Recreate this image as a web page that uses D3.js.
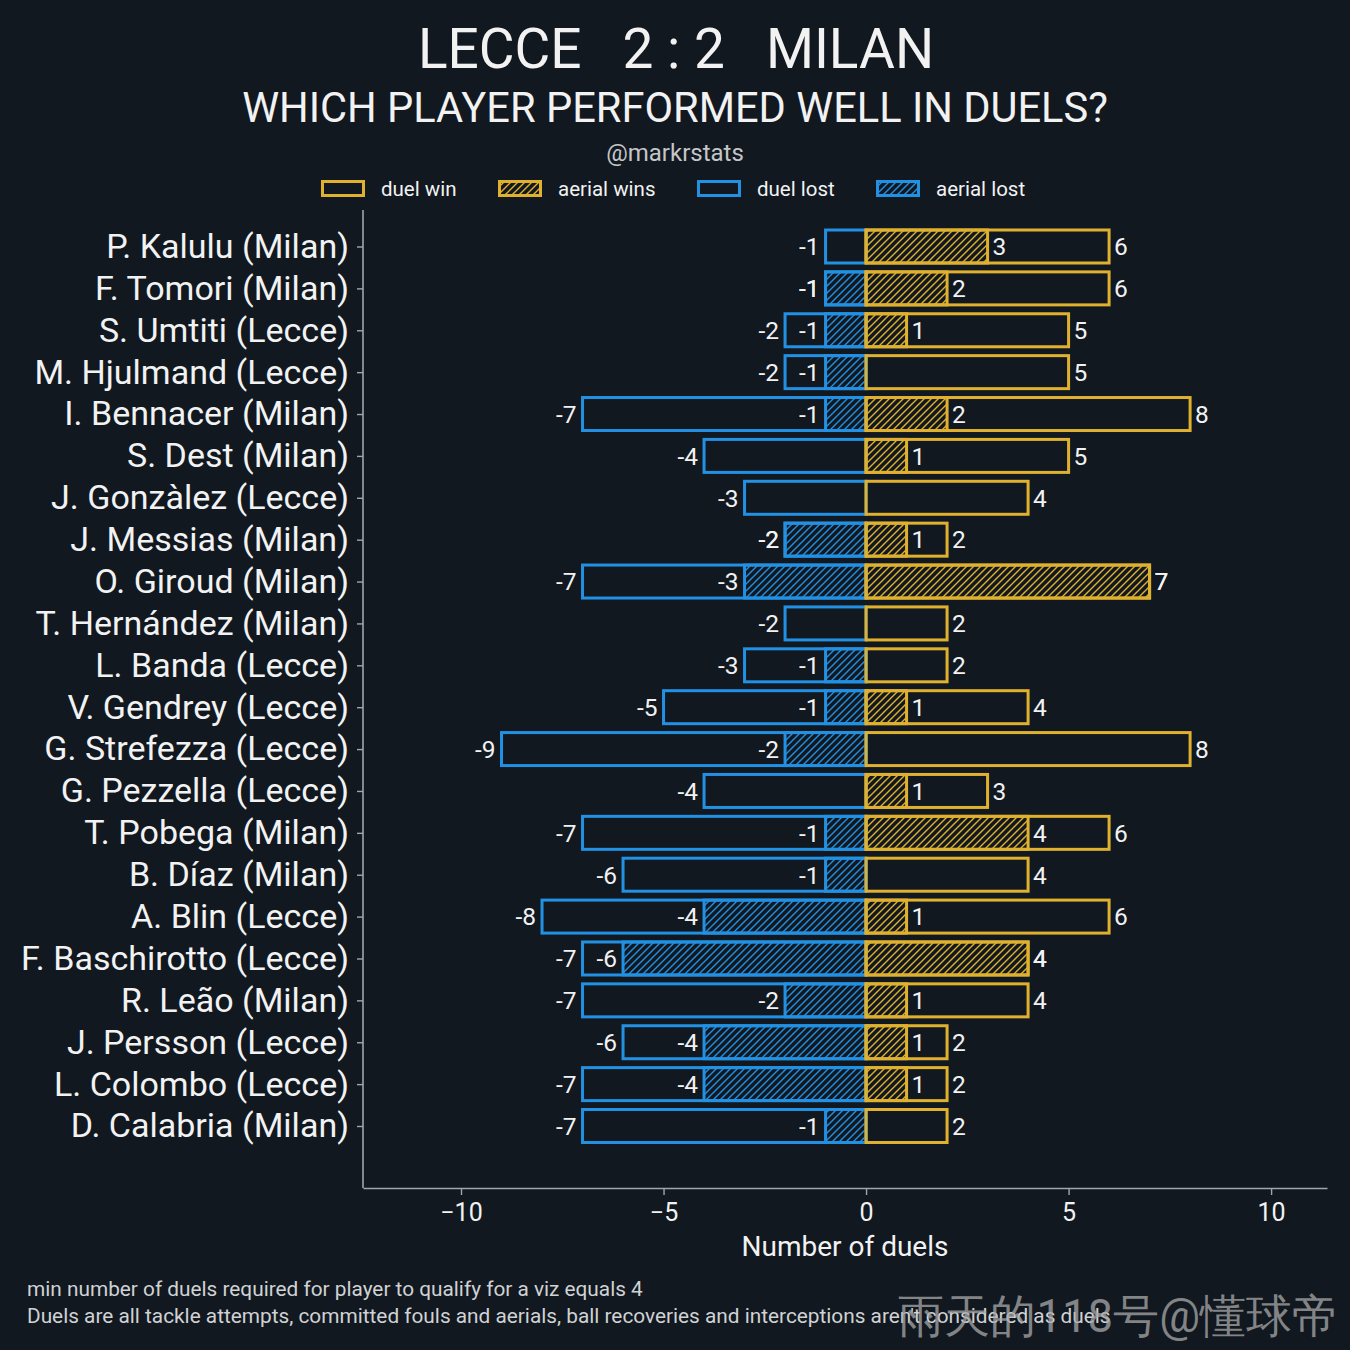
<!DOCTYPE html>
<html><head><meta charset="utf-8">
<script src="https://cdn.jsdelivr.net/npm/d3@7"></script>
<style>
html,body{margin:0;padding:0;background:#111820;}
svg{display:block;}
text{font-family:Roboto,"Noto Sans",sans-serif;}
</style></head><body>
<script>
const players = ["P. Kalulu (Milan)","F. Tomori (Milan)","S. Umtiti (Lecce)","M. Hjulmand (Lecce)","I. Bennacer (Milan)","S. Dest (Milan)","J. Gonzàlez (Lecce)","J. Messias (Milan)","O. Giroud (Milan)","T. Hernández (Milan)","L. Banda (Lecce)","V. Gendrey (Lecce)","G. Strefezza (Lecce)","G. Pezzella (Lecce)","T. Pobega (Milan)","B. Díaz (Milan)","A. Blin (Lecce)","F. Baschirotto (Lecce)","R. Leão (Milan)","J. Persson (Lecce)","L. Colombo (Lecce)","D. Calabria (Milan)"];
const duelLost   = [1,1,2,2,7,4,3,2,7,2,3,5,9,4,7,6,8,7,7,6,7,7];
const aerialLost = [0,1,1,1,1,0,0,2,3,0,1,1,2,0,1,1,4,6,2,4,4,1];
const duelWin    = [6,6,5,5,8,5,4,2,7,2,2,4,8,3,6,4,6,4,4,2,2,2];
const aerialWin  = [3,2,1,0,2,1,0,1,7,0,0,1,0,1,4,0,1,4,1,1,1,0];
const xTicks = [-10,-5,0,5,10];
const legendLabels = ["duel win","aerial wins","duel lost","aerial lost"];

const W=1350,H=1350;
const BG="#111820", YEL="#dfb12f", BLU="#2391e3", AX="#a0a6ad", TXT="#f2f2f2";
const svg=d3.select("body").append("svg").attr("width",W).attr("height",H);
svg.append("rect").attr("width",W).attr("height",H).attr("fill",BG);

const defs=svg.append("defs");
function hatch(id,color){
  const p=defs.append("pattern").attr("id",id).attr("patternUnits","userSpaceOnUse").attr("width",7).attr("height",7);
  p.append("path").attr("d","M-1,1 l2,-2 M0,7 l7,-7 M6,8 l2,-2").attr("stroke",color).attr("stroke-width",1.4).attr("fill","none");
}
hatch("hy",YEL); hatch("hb",BLU);

const x=d3.scaleLinear().domain([-12.42,11.38]).range([363,1327]);
const y=d3.scalePoint().domain(players).range([246.5,1126]);
const bh=33;

const data=players.map((p,i)=>({p,L:duelLost[i],aL:aerialLost[i],Wn:duelWin[i],aW:aerialWin[i]}));

// axes
const gx=svg.append("g").attr("transform","translate(0,1188)")
  .call(d3.axisBottom(x).tickValues(xTicks).tickSize(7).tickPadding(8).tickSizeOuter(0));
gx.select(".domain").attr("stroke",AX).attr("stroke-width",1.6);
gx.selectAll(".tick line").attr("stroke",AX).attr("stroke-width",1.4);
gx.selectAll(".tick text").attr("fill",TXT).attr("font-size",25).attr("font-family","Roboto");

const gy=svg.append("g").attr("transform","translate(363,0)")
  .call(d3.axisLeft(y).tickSize(6).tickPadding(8));
gy.select(".domain").remove();
gy.selectAll(".tick line").attr("stroke",AX).attr("stroke-width",1.4);
gy.selectAll(".tick text").attr("fill",TXT).attr("font-size",34).attr("font-family","Roboto");
svg.append("line").attr("x1",363).attr("x2",363).attr("y1",210).attr("y2",1188).attr("stroke",AX).attr("stroke-width",1.6);

// bars
const g=svg.append("g");
function bars(cls,val,fill,stroke){
  g.selectAll("rect."+cls).data(data.filter(d=>val(d)!==0)).join("rect").attr("class",cls)
    .attr("x",d=>Math.min(x(0),x(val(d)))).attr("width",d=>Math.abs(x(val(d))-x(0)))
    .attr("y",d=>y(d.p)-bh/2).attr("height",bh)
    .attr("fill",fill).attr("stroke",stroke).attr("stroke-width",3);
}
bars("dl",d=>-d.L,"none",BLU);
bars("al",d=>-d.aL,"url(#hb)",BLU);
bars("dw",d=>d.Wn,"none",YEL);
bars("aw",d=>d.aW,"url(#hy)",YEL);

function labels(cls,val){
  g.selectAll("text."+cls).data(data.filter(d=>val(d)!==0)).join("text").attr("class",cls)
    .attr("x",d=>val(d)<0?x(val(d))-6:x(val(d))+5)
    .attr("y",d=>y(d.p)).attr("dy","0.36em")
    .attr("text-anchor",d=>val(d)<0?"end":"start")
    .attr("fill",TXT).attr("font-size",24.5)
    .text(d=>(val(d)<0?"-":"")+Math.abs(val(d)));
}
labels("tl",d=>-d.L); labels("tal",d=>-d.aL); labels("tw",d=>d.Wn); labels("taw",d=>d.aW);

// axis title
svg.append("text").attr("x",845).attr("y",1256).attr("text-anchor","middle").attr("fill",TXT).attr("font-size",28).text("Number of duels");

// titles
svg.append("text").attr("x",676).attr("y",68).attr("text-anchor","middle").attr("fill",TXT).attr("font-size",55)
  .style("white-space","pre").text("LECCE   2 : 2   MILAN");
svg.append("text").attr("x",675).attr("y",122).attr("text-anchor","middle").attr("fill",TXT).attr("font-size",41.6)
  .text("WHICH PLAYER PERFORMED WELL IN DUELS?");
svg.append("text").attr("x",675).attr("y",161).attr("text-anchor","middle").attr("fill","#c4c6c8").attr("font-size",24)
  .text("@markrstats");

// legend
const legX=[321,498,697,876];
const legFill=["none","url(#hy)","none","url(#hb)"];
const legStroke=[YEL,YEL,BLU,BLU];
legendLabels.forEach((t,i)=>{
  svg.append("rect").attr("x",legX[i]+1.5).attr("y",181.5).attr("width",41).attr("height",14)
    .attr("fill",legFill[i]).attr("stroke",legStroke[i]).attr("stroke-width",3);
  svg.append("text").attr("x",legX[i]+60).attr("y",196).attr("fill",TXT).attr("font-size",20.5).text(t);
});

// footnotes
svg.append("text").attr("x",27).attr("y",1296).attr("fill","#d0d2d4").attr("font-size",20.8)
  .text("min number of duels required for player to qualify for a viz equals 4");
svg.append("text").attr("x",27).attr("y",1323).attr("fill","#d0d2d4").attr("font-size",20.8)
  .text("Duels are all tackle attempts, committed fouls and aerials, ball recoveries and interceptions aren't considered as duels");

// watermark (overlaps the footnote in the reference as well)
svg.append("text").attr("x",1338).attr("y",1332).attr("text-anchor","end").attr("fill","#a8a8a8").attr("fill-opacity",0.75)
  .attr("font-family","'Noto Sans CJK SC',sans-serif").attr("font-size",45.5).text("雨天的118号@懂球帝");
</script>
</body></html>
